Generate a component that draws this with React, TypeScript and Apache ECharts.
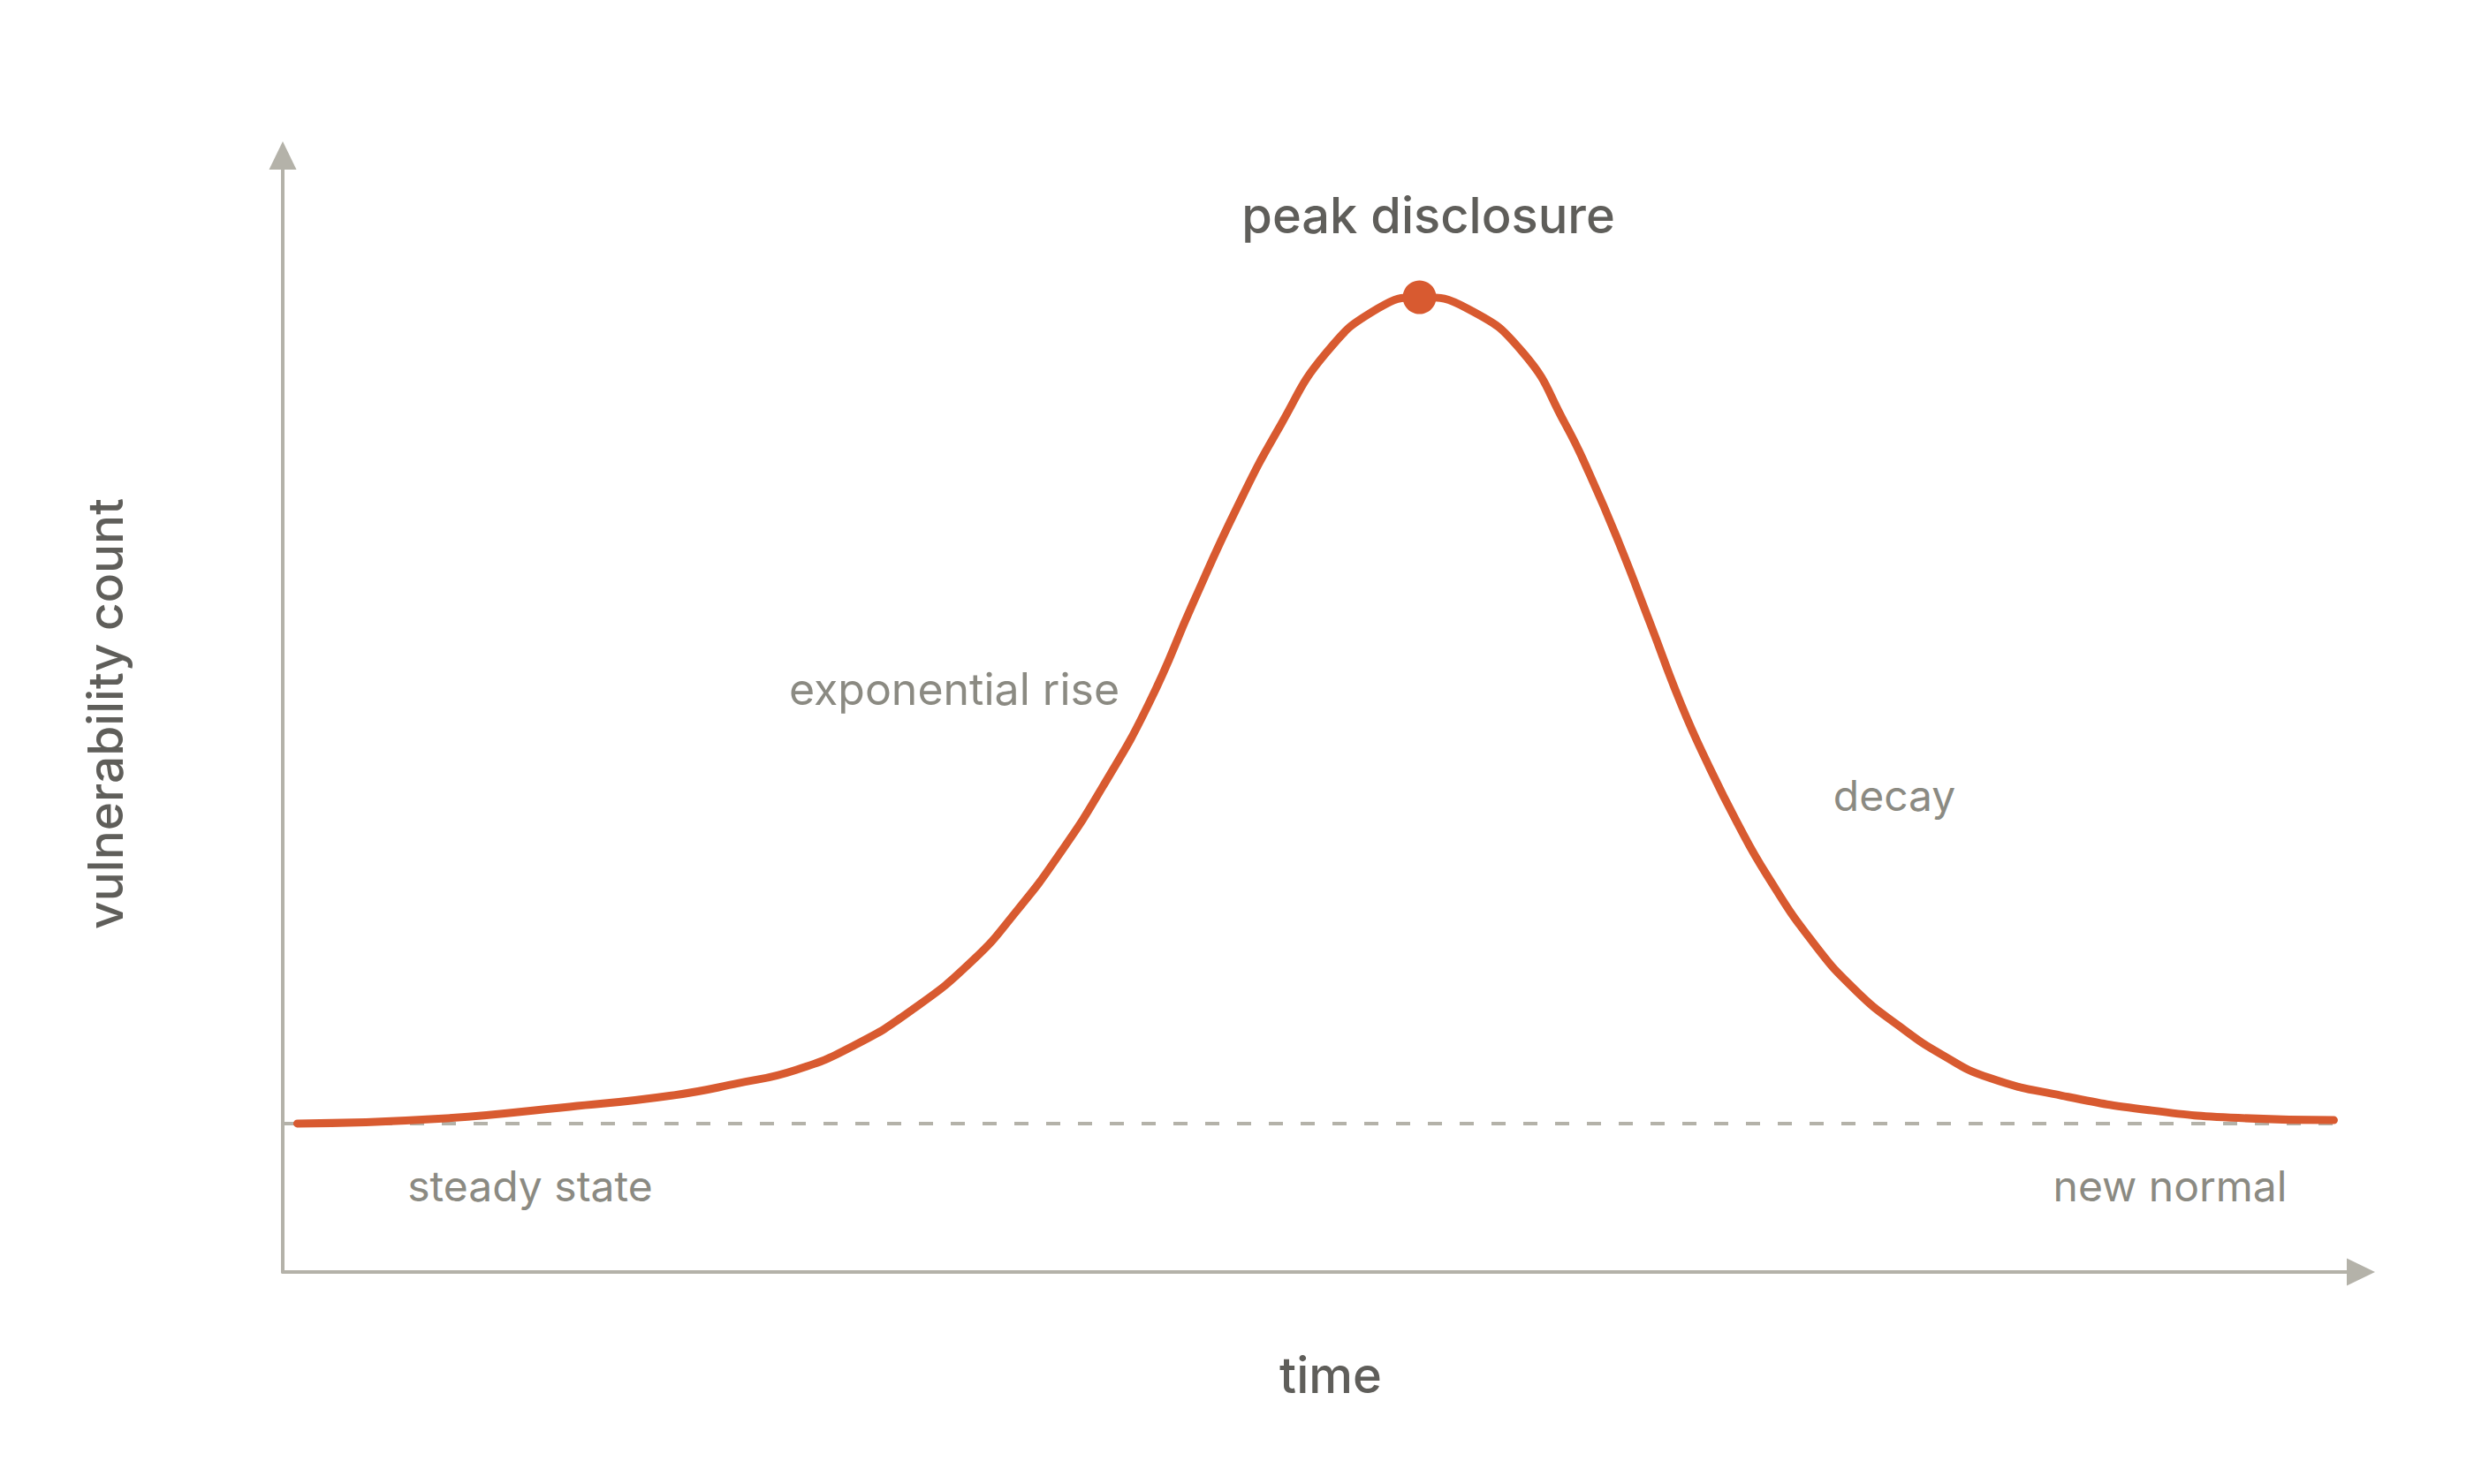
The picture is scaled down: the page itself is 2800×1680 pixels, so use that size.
import React, { useEffect, useRef } from 'react';
import * as echarts from 'echarts';

// time (0-100) vs vulnerability count (0-100)
const time = [
  0.7, 7.3, 13.8, 18.7, 21.9, 24.7, 27.5, 30.3, 33.2, 35.3, 37.4, 39.5, 41.7,
  43.8, 45.9, 48.0, 50.2, 52.7, 54.7, 57.0, 59.7, 61.7, 62.9, 64.3, 65.8, 67.3,
  68.6, 70.0, 71.4, 73.6, 75.7, 77.8, 79.9, 82.1, 85.6, 89.8, 94.1, 98.7,
];
const count = [
  13.3, 13.7, 14.8, 15.8, 16.9, 18.1, 20.3, 23.5, 27.9, 32.3, 37.5, 43.6, 51.0,
  59.9, 68.4, 75.8, 82.3, 86.3, 87.3, 86.3, 82.3, 76.0, 71.4, 65.3, 58.1, 50.8,
  45.4, 40.2, 35.6, 29.6, 25.2, 22.0, 19.4, 17.4, 15.8, 14.5, 13.8, 13.6,
];
const peak = [54.7, 87.3];
const baselineLevel = 13.3;
const baselineSpan = [0, 98.7];

const phaseLabels = ['exponential rise', 'decay', 'steady state', 'new normal'];

const FONT = "Inter, 'Noto Sans', sans-serif";
const AXIS = '#b4b2a9';
const DARK = '#5f5e5a';
const MUTED = '#8b8a82';
const ORANGE = '#d85a30';

const App: React.FC = () => {
  const chartRef = useRef<HTMLDivElement | null>(null);

  useEffect(() => {
    document.body.style.margin = '0';
    if (!chartRef.current) return;
    const chart = echarts.init(chartRef.current, undefined, { renderer: 'svg' });

    // label placement (pixels)
    const spots = [
      [1080, 780],
      [2144, 900],
      [600, 1342],
      [2456, 1342],
    ];

    const option = {
      animation: false,
      backgroundColor: '#ffffff',
      grid: { left: 320, top: 176, right: 128, bottom: 240 },
      xAxis: {
        type: 'value',
        min: 0,
        max: 100,
        name: 'time',
        nameLocation: 'middle',
        nameGap: 89,
        nameTextStyle: {
          color: DARK,
          fontSize: 56,
          fontWeight: 500,
          fontFamily: FONT,
          padding: [0, 0, 0, 20],
        },
        axisLine: {
          lineStyle: { color: AXIS, width: 4 },
          symbol: ['none', 'triangle'],
          symbolSize: [31, 32],
        },
        axisTick: { show: false },
        axisLabel: { show: false },
        splitLine: { show: false },
      },
      yAxis: {
        type: 'value',
        min: 0,
        max: 100,
        name: 'vulnerability count',
        nameLocation: 'middle',
        nameGap: 174,
        nameTextStyle: {
          color: DARK,
          fontSize: 55,
          fontWeight: 500,
          fontFamily: FONT,
        },
        axisLine: {
          show: true,
          lineStyle: { color: AXIS, width: 4 },
          symbol: ['none', 'triangle'],
          symbolSize: [31, 32],
        },
        axisTick: { show: false },
        axisLabel: { show: false },
        splitLine: { show: false },
      },
      series: [
        {
          type: 'line',
          data: baselineSpan.map((t) => [t, baselineLevel]),
          symbol: 'none',
          silent: true,
          lineStyle: { color: AXIS, width: 4, type: [16, 20] },
          z: 1,
        },
        {
          type: 'line',
          data: time.map((t, i) => [t, count[i]]),
          smooth: 0.5,
          symbol: 'none',
          lineStyle: { color: ORANGE, width: 9, cap: 'round', join: 'round' },
          z: 2,
        },
        {
          type: 'scatter',
          data: [peak],
          symbolSize: 38,
          itemStyle: { color: ORANGE, opacity: 1 },
          label: {
            show: true,
            position: 'top',
            distance: 46,
            offset: [10, 0],
            formatter: 'peak disclosure',
            color: DARK,
            fontSize: 56,
            fontWeight: 500,
            fontFamily: FONT,
          },
          z: 3,
        },
      ],
      graphic: phaseLabels.map((text, i) => ({
        type: 'text',
        x: spots[i][0],
        y: spots[i][1],
        style: {
          text,
          fill: MUTED,
          fontSize: i === 0 ? 50 : 48,
          fontFamily: FONT,
          textAlign: 'center',
          textVerticalAlign: 'middle',
        },
      })),
    };

    chart.setOption(option);
    return () => {
      chart.dispose();
    };
  }, []);

  return <div ref={chartRef} style={{ width: '2800px', height: '1680px' }} />;
};

export default App;
